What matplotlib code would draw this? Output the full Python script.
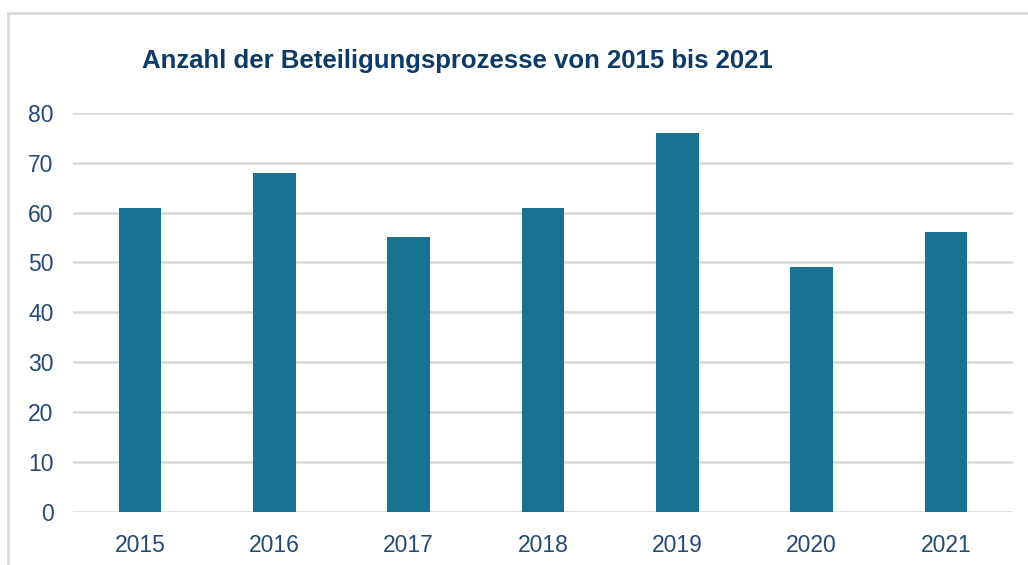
import matplotlib.pyplot as plt
import numpy as np

# data
years = ['2015', '2016', '2017', '2018', '2019', '2020', '2021']
counts = [61, 68, 55, 61, 76, 49, 56]
y_ticks = [0, 10, 20, 30, 40, 50, 60, 70, 80]

plt.rcParams['font.family'] = ['Liberation Sans', 'DejaVu Sans']

W, H = 1028, 565
fig = plt.figure(figsize=(W / 100, H / 100), dpi=100)

# plot area in pixel coords: x 73..1013, y 113..512
ax = fig.add_axes([73 / W, 1 - 512 / H, 940 / W, (512 - 112.7) / H])

x = np.arange(len(years))
ax.bar(x, counts, width=0.316, color='#177391', zorder=3)

ax.set_xlim(-0.5, len(years) - 0.5)
ax.set_ylim(0, 80)
ax.set_yticks(y_ticks)
ax.set_xticks(x)
ax.set_xticklabels(years)

tick_color = '#244a74'
ax.tick_params(axis='both', length=0, labelsize=16.5, colors=tick_color)
ax.tick_params(axis='x', pad=16)
ax.tick_params(axis='y', pad=14)

ax.grid(axis='y', color='#d9d9d9', linewidth=1.8, zorder=0)
for s in ax.spines.values():
    s.set_visible(False)

# title
fig.text(142 / W, 1 - 61 / H, 'Anzahl der Beteiligungsprozesse von 2015 bis 2021',
         ha='left', va='center', fontsize=18.5, fontweight='bold', color='#0d3a66')

# outer frame (top and left edges only visible)
fig.add_artist(plt.Line2D([8 / W, 1.0], [1 - 13 / H, 1 - 13 / H],
                          transform=fig.transFigure, color='#d9d9d9', linewidth=2))
fig.add_artist(plt.Line2D([8 / W, 8 / W], [0, 1 - 13 / H],
                          transform=fig.transFigure, color='#d9d9d9', linewidth=2))

fig.savefig('out.png', dpi=100)
